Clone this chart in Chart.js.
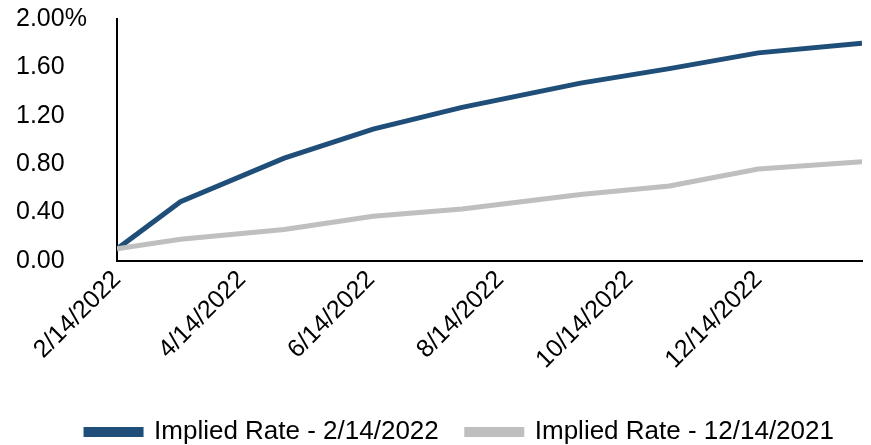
<!DOCTYPE html>
<html>
<head>
<meta charset="utf-8">
<script src="https://cdn.jsdelivr.net/npm/chart.js@4/dist/chart.umd.min.js"></script>
<style>
  html, body { margin: 0; padding: 0; background: #fff; }
  #wrap { width: 871px; height: 445px; }
</style>
</head>
<body>
<div id="wrap"><canvas id="grafico"></canvas></div>
<script>
// fechas de las reuniones (puntos de la curva)
const fechas = ['2/14/2022', '3/16/2022', '5/4/2022', '6/15/2022', '7/27/2022',
                '9/21/2022', '11/2/2022', '12/14/2022', '2/1/2023'];
const tasa20220214 = [0.10, 0.49, 0.85, 1.09, 1.27, 1.47, 1.59, 1.72, 1.80];
const tasa20211214 = [0.10, 0.18, 0.26, 0.37, 0.43, 0.55, 0.62, 0.76, 0.82];
const etiquetasX = ['2/14/2022', '4/14/2022', '6/14/2022', '8/14/2022', '10/14/2022', '12/14/2022'];
const etiquetasY = ['0.00', '0.40', '0.80', '1.20', '1.60', '2.00%'];
const valoresY = [0, 0.4, 0.8, 1.2, 1.6, 2.0];
const nombres = ['Implied Rate - 2/14/2022', 'Implied Rate - 12/14/2021'];

// dias desde la primera fecha
function dia(txt) {
    const p = txt.split('/').map(Number);
    const base = Date.UTC(2022, 1, 14);
    return Math.round((Date.UTC(p[2], p[0] - 1, p[1]) - base) / 86400000);
}

const puntos = (vals) => fechas.map((f, i) => ({ x: dia(f), y: vals[i] }));
const fuente = { family: "'Liberation Sans', Arial, sans-serif", size: 25 };

// mover la leyenda un poco a la derecha y abajo
const moverLeyenda = {
    id: 'moverLeyenda',
    afterLayout(chart) {
        chart.legend.left += 42;
        chart.legend.top += 10;
        chart.legend.bottom += 10;
    }
};

const ctx = document.getElementById('grafico').getContext('2d');
const miGrafico = new Chart(ctx, {
    type: 'line',
    data: {
        datasets: [{
            label: nombres[0],
            data: puntos(tasa20220214),
            borderColor: '#1F4E79',
            backgroundColor: '#1F4E79',
            borderWidth: 5,
            pointRadius: 0,
            tension: 0,
            order: 1
        }, {
            label: nombres[1],
            data: puntos(tasa20211214),
            borderColor: '#BFBFBF',
            backgroundColor: '#BFBFBF',
            borderWidth: 5,
            pointRadius: 0,
            tension: 0,
            order: 0
        }]
    },
    plugins: [moverLeyenda],
    options: {
        responsive: true,
        maintainAspectRatio: false,
        animation: false,
        layout: { padding: { left: 16, right: 9, top: 19, bottom: 0 } },
        plugins: {
            tooltip: { enabled: false },
            legend: {
                position: 'bottom',
                labels: {
                    color: '#000',
                    font: { family: fuente.family, size: 26 },
                    boxWidth: 55,
                    boxHeight: 5,
                    padding: 28,
                    sort: (a, b) => a.datasetIndex - b.datasetIndex
                }
            }
        },
        scales: {
            x: {
                type: 'linear',
                min: dia(fechas[0]),
                max: dia(fechas[fechas.length - 1]),
                grid: { display: false, drawTicks: false },
                border: { display: true, color: '#000', width: 2 },
                afterBuildTicks: (s) => { s.ticks = etiquetasX.map(t => ({ value: dia(t) })); },
                afterFit: (s) => { s.height = 120; },
                ticks: {
                    color: '#000',
                    font: fuente,
                    minRotation: 45,
                    maxRotation: 45,
                    autoSkip: false,
                    padding: 4,
                    callback: (v) => { const i = etiquetasX.findIndex(t => dia(t) === v); return i >= 0 ? etiquetasX[i] : ''; }
                }
            },
            y: {
                min: 0,
                max: 2,
                grid: { display: false, drawTicks: false },
                border: { display: true, color: '#000', width: 2 },
                afterBuildTicks: (s) => { s.ticks = valoresY.map(v => ({ value: v })); },
                afterFit: (s) => { s.width = 101; },
                ticks: {
                    color: '#000',
                    font: fuente,
                    crossAlign: 'far',
                    callback: (v) => { const i = valoresY.indexOf(v); return i >= 0 ? etiquetasY[i] : ''; }
                }
            }
        }
    }
});
</script>
</body>
</html>
